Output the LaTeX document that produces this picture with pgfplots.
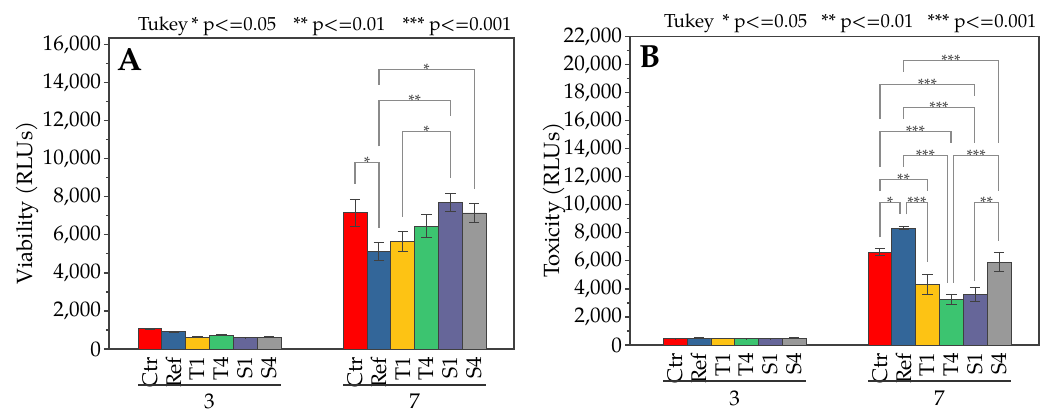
\documentclass[border=0pt]{standalone}
\usepackage{fontspec}
\setmainfont{TeX Gyre Pagella}
\usepackage{pgfplots}
\pgfplotsset{compat=1.18}
\definecolor{cCtr}{HTML}{FF0000}
\definecolor{cRef}{HTML}{336699}
\definecolor{cT1}{HTML}{FDC314}
\definecolor{cT4}{HTML}{3CC470}
\definecolor{cS1}{HTML}{666699}
\definecolor{cS4}{HTML}{999999}
\definecolor{brk}{HTML}{8A8A8A}
\tikzset{sigstar/.style={font=\fontsize{8.2}{9}\selectfont, text=black!72, anchor=base, inner sep=0pt, yshift=-3pt}}
\pgfplotsset{
  common/.style={
    scale only axis, clip=false,
    axis line style={black!75, line width=0.7pt},
    tick align=outside, ytick pos=left,
    major tick length=2.6pt, minor tick length=1.6pt,
    minor y tick num=1,
    every tick/.style={black!75, line width=0.6pt},
    xtick style={draw=none},
    scaled y ticks=false,
    /pgf/number format/1000 sep={,},
    /pgf/number format/assume math mode=true,
    tick label style={font=\fontsize{10.6}{12}\selectfont},
    yticklabel style={inner sep=1.2pt},
    x tick label style={rotate=90, anchor=east, inner sep=1.2pt},
    xticklabels={Ctr,Ref,T1,T4,S1,S4,Ctr,Ref,T1,T4,S1,S4},
    ylabel style={font=\fontsize{11}{13}\selectfont, anchor=center},
  },
  mybar/.style={ybar, bar width=1, bar shift=0pt, draw=black!75, line width=0.4pt,
    error bars/y dir=both, error bars/y explicit,
    error bars/error bar style={black!75, line width=0.5pt},
    error bars/error mark options={rotate=90, black!75, mark size=2.6pt, line width=0.5pt}},
  brack/.style={brk, line width=0.6pt, mark=none, sharp plot},
}
\begin{document}
\begin{tikzpicture}
\useasboundingbox (0,0) rectangle (528.5pt,206pt);
% ---------------- Panel A ----------------
\begin{axis}[common,
  at={(54.5pt,31.5pt)}, anchor=south west,
  width=202.5pt, height=155.5pt,
  xmin=0, xmax=17, ymin=0, ymax=16350,
  ytick={0,2000,4000,6000,8000,10000,12000,14000,16000},
  xtick={1.72,2.72,3.72,4.72,5.72,6.72,10.33,11.33,12.33,13.33,14.33,15.33},
  ylabel={Viability (RLUs)},
  ylabel style={at={([xshift=-41pt]axis description cs:0,0.47)}},
]
\addplot[mybar, fill=cCtr] coordinates {(1.72,1070) +- (0,25) (10.33,7170) +- (0,710)};
\addplot[mybar, fill=cRef] coordinates {(2.72,900) +- (0,20) (11.33,5120) +- (0,455)};
\addplot[mybar, fill=cT1] coordinates {(3.72,630) +- (0,20) (12.33,5640) +- (0,520)};
\addplot[mybar, fill=cT4] coordinates {(4.72,720) +- (0,20) (13.33,6460) +- (0,590)};
\addplot[mybar, fill=cS1] coordinates {(5.72,600) +- (0,15) (14.33,7690) +- (0,475)};
\addplot[mybar, fill=cS4] coordinates {(6.72,620) +- (0,20) (15.33,7150) +- (0,475)};
% significance brackets
\addplot[brack] coordinates {(10.33,8680) (10.33,9810) (11.33,9810) (11.33,6380)};
\addplot[brack] coordinates {(12.33,6960) (12.33,11440) (14.33,11440) (14.33,8980)};
\addplot[brack] coordinates {(11.33,10650) (11.33,13050) (14.33,13050) (14.33,12230)};
\addplot[brack] coordinates {(11.33,13890) (11.33,14700) (15.33,14700) (15.33,8410)};
\node[sigstar] at (axis cs:10.83,9810) {*};
\node[sigstar] at (axis cs:13.33,11440) {*};
\node[sigstar] at (axis cs:12.83,13050) {**};
\node[sigstar] at (axis cs:13.33,14700) {*};
% group lines and labels
\draw[black!80, line width=0.6pt] ([yshift=-18pt]axis cs:1.22,0) -- ([yshift=-18pt]axis cs:7.22,0);
\draw[black!80, line width=0.6pt] ([yshift=-18pt]axis cs:9.83,0) -- ([yshift=-18pt]axis cs:15.83,0);
\node[font=\fontsize{10.6}{12}\selectfont, inner sep=0pt] at ([yshift=-26pt]axis cs:4.22,0) {3};
\node[font=\fontsize{10.6}{12}\selectfont, inner sep=0pt] at ([yshift=-26pt]axis cs:12.83,0) {7};
% panel letter and title
\node[anchor=north west, inner sep=0pt, font=\fontsize{16}{16}\selectfont\bfseries] at ([xshift=3.8pt,yshift=-5pt]rel axis cs:0,1) {A};
\node[anchor=base east, inner sep=0pt, font=\fontsize{9.4}{11}\selectfont] at ([xshift=-1pt,yshift=3.6pt]rel axis cs:1,1) {Tukey\hspace{1.5pt}* p<=0.05\hspace{8.5pt}** p<=0.01\hspace{8.5pt}*** p<=0.001};
\end{axis}
% ---------------- Panel B ----------------
\begin{axis}[common,
  at={(315pt,33.5pt)}, anchor=south west,
  width=204.5pt, height=154.25pt,
  xmin=0, xmax=17.18, ymin=0, ymax=22000,
  ytick={0,2000,4000,6000,8000,10000,12000,14000,16000,18000,20000,22000},
  xtick={1.9,2.9,3.9,4.9,5.9,6.9,10.5,11.5,12.5,13.5,14.5,15.5},
  ylabel={Toxicity (RLUs)},
  ylabel style={at={([xshift=-38pt]axis description cs:0,0.47)}},
]
\addplot[mybar, fill=cCtr] coordinates {(1.9,450) +- (0,20) (10.5,6600) +- (0,250)};
\addplot[mybar, fill=cRef] coordinates {(2.9,490) +- (0,20) (11.5,8340) +- (0,80)};
\addplot[mybar, fill=cT1] coordinates {(3.9,470) +- (0,15) (12.5,4320) +- (0,700)};
\addplot[mybar, fill=cT4] coordinates {(4.9,440) +- (0,10) (13.5,3250) +- (0,360)};
\addplot[mybar, fill=cS1] coordinates {(5.9,460) +- (0,15) (14.5,3620) +- (0,490)};
\addplot[mybar, fill=cS4] coordinates {(6.9,490) +- (0,20) (15.5,5890) +- (0,680)};
% significance brackets
\addplot[brack] coordinates {(11.48,19480) (11.48,20290) (15.48,20290) (15.48,14380)};
\addplot[brack] coordinates {(10.5,16110) (10.5,18580) (14.48,18580) (14.48,17770)};
\addplot[brack] coordinates {(11.48,16110) (11.48,16910) (14.48,16910) (14.48,14380)};
\addplot[brack] coordinates {(10.5,12710) (10.5,15200) (13.48,15200) (13.48,14380)};
\addplot[brack] coordinates {(11.48,12710) (11.48,13540) (13.35,13540) (13.35,4450)};
\addplot[brack] coordinates {(13.6,4450) (13.6,13540) (15.48,13540) (15.48,10980)};
\addplot[brack] coordinates {(10.5,10980) (10.5,11830) (12.48,11830) (12.48,10980)};
\addplot[brack] coordinates {(10.5,7680) (10.5,10140) (11.34,10140) (11.34,9320)};
\addplot[brack] coordinates {(11.62,9320) (11.62,10140) (12.48,10140) (12.48,5890)};
\addplot[brack] coordinates {(14.48,4560) (14.48,10140) (15.48,10140) (15.48,7430)};
\node[sigstar] at (axis cs:13.48,20290) {***};
\node[sigstar] at (axis cs:12.49,18580) {***};
\node[sigstar] at (axis cs:12.98,16910) {***};
\node[sigstar] at (axis cs:11.99,15200) {***};
\node[sigstar] at (axis cs:12.41,13540) {***};
\node[sigstar] at (axis cs:14.54,13540) {***};
\node[sigstar] at (axis cs:11.49,11830) {**};
\node[sigstar] at (axis cs:10.92,10140) {*};
\node[sigstar] at (axis cs:12.05,10140) {***};
\node[sigstar] at (axis cs:14.98,10140) {**};
% group lines and labels
\draw[black!80, line width=0.6pt] ([yshift=-18pt]axis cs:1.4,0) -- ([yshift=-18pt]axis cs:7.4,0);
\draw[black!80, line width=0.6pt] ([yshift=-18pt]axis cs:10.0,0) -- ([yshift=-18pt]axis cs:16.0,0);
\node[font=\fontsize{10.6}{12}\selectfont, inner sep=0pt] at ([yshift=-26.5pt]axis cs:4.4,0) {3};
\node[font=\fontsize{10.6}{12}\selectfont, inner sep=0pt] at ([yshift=-26.5pt]axis cs:13.0,0) {7};
% panel letter and title
\node[anchor=north west, inner sep=0pt, font=\fontsize{16}{16}\selectfont\bfseries] at ([xshift=4.5pt,yshift=-4.5pt]rel axis cs:0,1) {B};
\node[anchor=base east, inner sep=0pt, font=\fontsize{9.4}{11}\selectfont] at ([xshift=-1pt,yshift=4.6pt]rel axis cs:1,1) {Tukey\hspace{4pt}* p<=0.05\hspace{7pt}** p<=0.01\hspace{7pt}*** p<=0.001};
\end{axis}
\end{tikzpicture}
\end{document}
